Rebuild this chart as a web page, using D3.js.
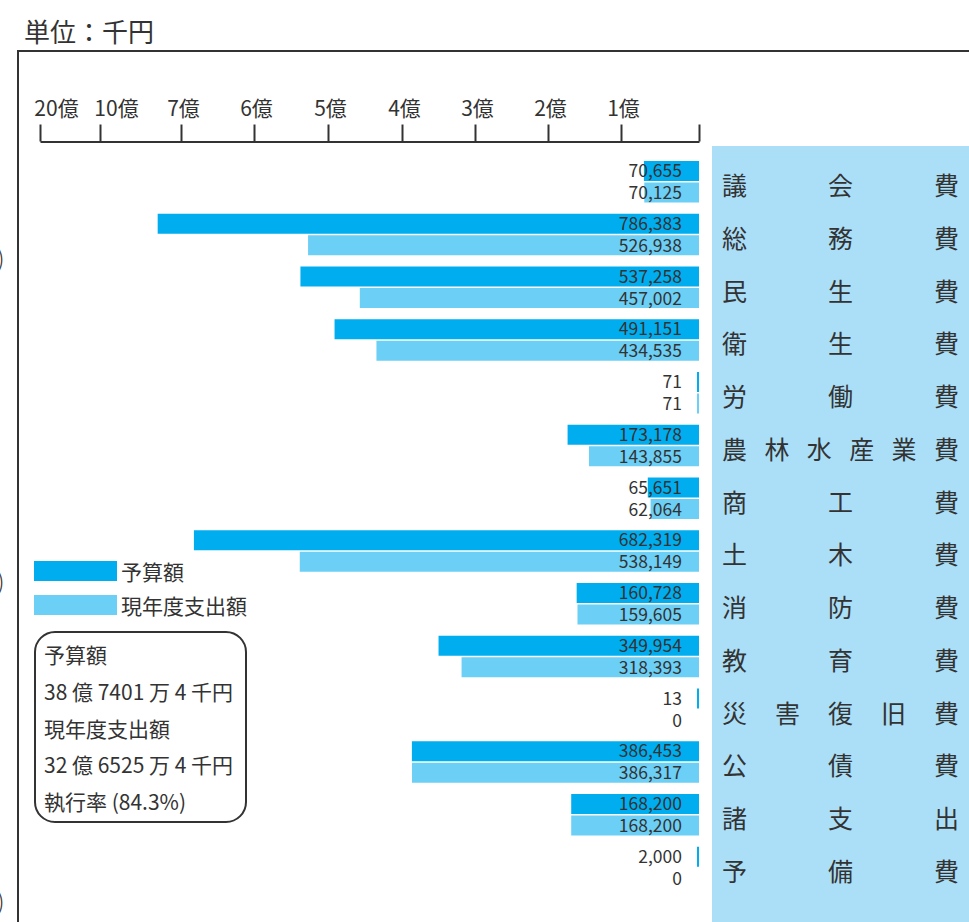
<!DOCTYPE html>
<html>
<head>
<meta charset="utf-8">
<script src="https://cdn.jsdelivr.net/npm/d3@7"></script>
<style>
  body { margin: 0; background: #fff; }
  svg { display: block; font-family: "Noto Sans CJK JP", "Noto Sans", sans-serif; }
</style>
</head>
<body>
<svg id="chart"></svg>
<script>
// categories and values (千円)
const categories = ['議会費', '総務費', '民生費', '衛生費', '労働費', '農林水産業費', '商工費',
    '土木費', '消防費', '教育費', '災害復旧費', '公債費', '諸支出', '予備費'];
const budget = [70655, 786383, 537258, 491151, 71, 173178, 65651, 682319, 160728, 349954, 13, 386453, 168200, 2000];
const spent = [70125, 526938, 457002, 434535, 71, 143855, 62064, 538149, 159605, 318393, 0, 386317, 168200, 0];

// axis ticks (the axis is broken above 7億)
const tickValues = [0, 100000, 200000, 300000, 400000, 500000, 600000, 700000, 1000000, 2000000];
const tickLabels = ['', '1億', '2億', '3億', '4億', '5億', '6億', '7億', '10億', '20億'];

const legendLabels = ['予算額', '現年度支出額'];
const summaryLines = ['予算額', '38 億 7401 万 4 千円', '現年度支出額', '32 億 6525 万 4 千円', '執行率 (84.3%)'];

const width = 969;
const height = 922;
const darkBlue = '#00adef';
const lightBlue = '#6ccff6';
const ink = '#333';

const svg = d3.select('#chart')
    .attr('width', width)
    .attr('height', height);

// piecewise scale following the printed tick positions
const x = d3.scaleLinear()
    .domain(tickValues)
    .range([699, 621, 548, 475, 402, 328, 254, 181, 100, 40]);

const y = d3.scaleBand()
    .domain(categories)
    .range([161, 161 + 52.75 * categories.length]);

// title
svg.append('text')
    .attr('x', 24)
    .attr('y', 42)
    .attr('font-size', 26)
    .attr('fill', ink)
    .text('単位：千円');

// cut-off brackets at the left edge
svg.selectAll('.bracket')
    .data([267, 590, 910])
    .join('text')
    .attr('class', 'bracket')
    .attr('x', -3)
    .attr('y', (d) => d)
    .attr('font-size', 24)
    .attr('font-weight', 300)
    .attr('fill', ink)
    .text(')');

// frame
svg.append('path')
    .attr('d', `M18,${height + 5}V51H${width + 5}`)
    .attr('fill', 'none')
    .attr('stroke', ink)
    .attr('stroke-width', 2);

// category panel
svg.append('rect')
    .attr('x', 712)
    .attr('y', 146)
    .attr('width', width - 712)
    .attr('height', height - 146)
    .attr('fill', '#abdff8');

// axis
const axis = svg.append('g')
    .attr('transform', 'translate(0,141.5)')
    .call(d3.axisTop(x)
        .tickValues(tickValues)
        .tickFormat((d, i) => tickLabels[i])
        .tickSize(17)
        .tickSizeOuter(0)
        .tickPadding(9));

axis.selectAll('path, line')
    .attr('stroke', ink)
    .attr('stroke-width', 2);
axis.selectAll('text')
    .attr('font-family', '"Noto Sans CJK JP", sans-serif')
    .attr('font-size', 21)
    .attr('fill', ink)
    .attr('dx', (d, i) => tickLabels[i].length > 2 ? 16 : 2);

// bars
const rows = svg.append('g')
    .selectAll('g')
    .data(categories)
    .join('g')
    .attr('transform', (d) => `translate(0,${y(d)})`);

const barWidth = (v) => v === 0 ? 0 : Math.max(x(0) - x(v), 2);

rows.append('rect')
    .attr('x', (d, i) => x(0) - barWidth(budget[i]))
    .attr('y', 0)
    .attr('width', (d, i) => barWidth(budget[i]))
    .attr('height', 20)
    .attr('fill', darkBlue);

rows.append('rect')
    .attr('x', (d, i) => x(0) - barWidth(spent[i]))
    .attr('y', 21.5)
    .attr('width', (d, i) => barWidth(spent[i]))
    .attr('height', 20)
    .attr('fill', lightBlue);

const fmt = d3.format(',');

rows.append('text')
    .attr('x', 682)
    .attr('y', 16)
    .attr('text-anchor', 'end')
    .attr('font-size', 17.5)
    .attr('fill', ink)
    .text((d, i) => fmt(budget[i]));

rows.append('text')
    .attr('x', 682)
    .attr('y', 38)
    .attr('text-anchor', 'end')
    .attr('font-size', 17.5)
    .attr('fill', ink)
    .text((d, i) => fmt(spent[i]));

// category labels, characters spread over the panel width
rows.each(function (d) {
    const chars = Array.from(d);
    const step = (960 - 26 - 722) / (chars.length - 1);
    d3.select(this).selectAll('.cat')
        .data(chars)
        .join('text')
        .attr('class', 'cat')
        .attr('x', (c, j) => 722 + j * step)
        .attr('y', 34)
        .attr('font-size', 25)
        .attr('fill', ink)
        .text((c) => c);
});

// legend
const legend = svg.append('g')
    .selectAll('g')
    .data(legendLabels)
    .join('g')
    .attr('transform', (d, i) => `translate(34,${561 + i * 34})`);

legend.append('rect')
    .attr('width', 83)
    .attr('height', 20)
    .attr('fill', (d, i) => i === 0 ? darkBlue : lightBlue);

legend.append('text')
    .attr('x', 87)
    .attr('y', 19)
    .attr('font-size', 21)
    .attr('fill', ink)
    .text((d) => d);

// summary box
svg.append('rect')
    .attr('x', 35)
    .attr('y', 632)
    .attr('width', 211)
    .attr('height', 190)
    .attr('rx', 20)
    .attr('fill', 'none')
    .attr('stroke', ink)
    .attr('stroke-width', 2);

svg.selectAll('.summary')
    .data(summaryLines)
    .join('text')
    .attr('class', 'summary')
    .attr('x', 44)
    .attr('y', (d, i) => 663 + i * 36.8)
    .attr('font-size', 21)
    .attr('fill', ink)
    .text((d) => d);
</script>
</body>
</html>
